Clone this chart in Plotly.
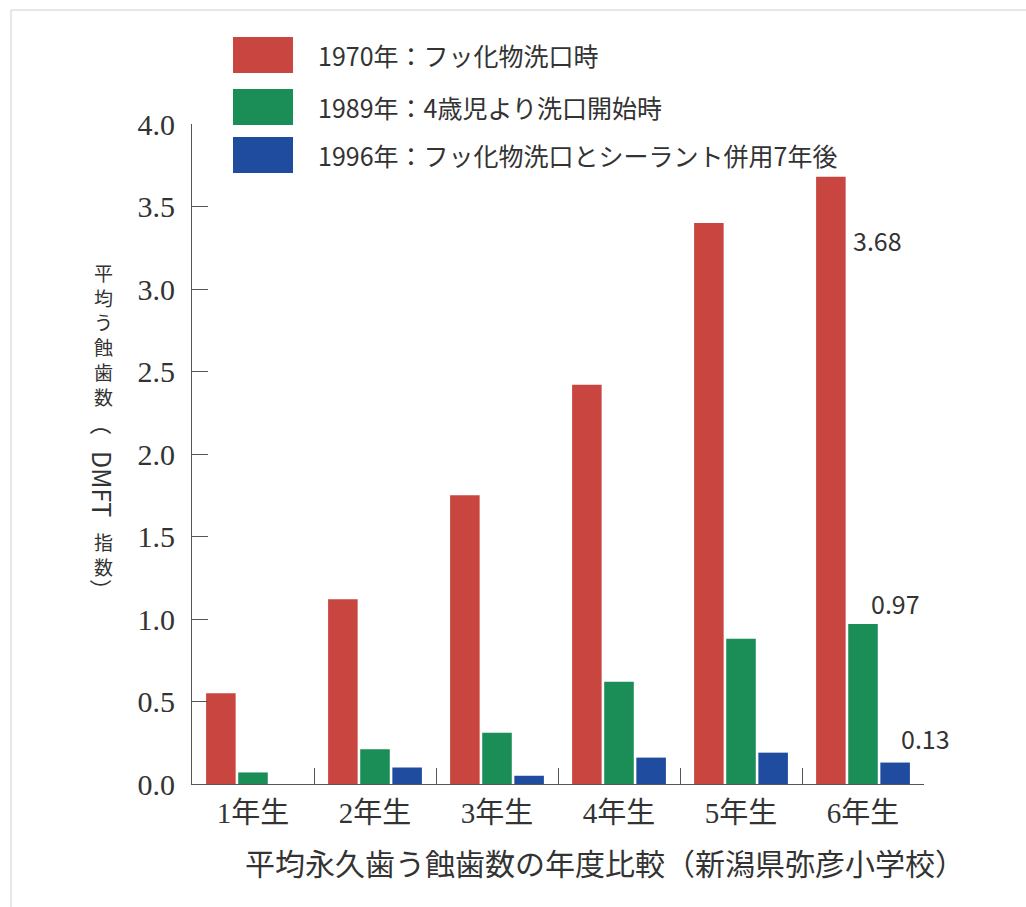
import plotly.graph_objects as go

# ---- data ----
categories = ["1年生", "2年生", "3年生", "4年生", "5年生", "6年生"]
series_names = ["1970年：フッ化物洗口時",
                "1989年：4歳児より洗口開始時",
                "1996年：フッ化物洗口とシーラント併用7年後"]
values_1970 = [0.55, 1.12, 1.75, 2.42, 3.40, 3.68]
values_1989 = [0.07, 0.21, 0.31, 0.62, 0.88, 0.97]
values_1996 = [0.00, 0.10, 0.05, 0.16, 0.19, 0.13]
colors = ["#c8463f", "#1b8d56", "#1f4c9f"]
y_ticks = [0.0, 0.5, 1.0, 1.5, 2.0, 2.5, 3.0, 3.5, 4.0]
y_title_upright = ["平", "均", "う", "蝕", "歯", "数"]
y_title_open = "（"
y_title_rot = "DMFT"
y_title_upright2 = ["指", "数"]
y_title_close = "）"
x_title = "平均永久歯う蝕歯数の年度比較（新潟県弥彦小学校）"

W, H = 1026, 907
L, R, T, B = 192, 924, 124, 784

def px(x):
    return (x - L) / (R - L)

def py(y):
    return (B - y) / (B - T)

SANS = "Noto Sans CJK JP, Noto Sans, sans-serif"
SERIF = "Liberation Serif, Noto Sans CJK JP, serif"
TXT = "#333333"

fig = go.Figure()
for name, vals, c in zip(series_names, [values_1970, values_1989, values_1996], colors):
    fig.add_trace(go.Bar(x=categories, y=vals, name=name, marker=dict(color=c, line=dict(width=0)),
                         showlegend=False))

annotations = []
shapes = []

# custom legend (large swatches)
legend_rows_y = [55, 107, 155]
for name, c, yy in zip(series_names, colors, legend_rows_y):
    shapes.append(dict(type="rect", xref="paper", yref="paper",
                       x0=px(233), x1=px(293), y0=py(yy - 18), y1=py(yy + 18),
                       fillcolor=c, line=dict(width=0)))
    annotations.append(dict(text=name, xref="paper", yref="paper", x=px(316), y=py(yy),
                            xanchor="left", yanchor="middle", showarrow=False,
                            font=dict(family=SANS, size=25, color=TXT)))

# value labels
annotations.append(dict(text=f"{values_1970[5]:.2f}", x=categories[5], y=values_1970[5],
                        xref="x", yref="y", xanchor="left", yanchor="middle",
                        xshift=-12, yshift=-63, showarrow=False,
                        font=dict(family=SANS, size=25, color=TXT)))
annotations.append(dict(text=f"{values_1989[5]:.2f}", x=categories[5], y=values_1989[5],
                        xref="x", yref="y", xanchor="center", yanchor="bottom",
                        xshift=32, yshift=1, showarrow=False,
                        font=dict(family=SANS, size=25, color=TXT)))
annotations.append(dict(text=f"{values_1996[5]:.2f}", x=categories[5], y=values_1996[5],
                        xref="x", yref="y", xanchor="center", yanchor="bottom",
                        xshift=62, yshift=5, showarrow=False,
                        font=dict(family=SANS, size=25, color=TXT)))

# vertical y-axis title
ycx = 103
annotations.append(dict(text="<br>".join(y_title_upright), xref="paper", yref="paper",
                        x=px(ycx), y=py(334), xanchor="center", yanchor="middle", showarrow=False,
                        font=dict(family=SANS, size=19, color=TXT)))
annotations.append(dict(text=y_title_open, xref="paper", yref="paper", x=px(ycx), y=py(424),
                        xanchor="center", yanchor="middle", showarrow=False, textangle=90,
                        font=dict(family=SANS, size=22, color=TXT)))
annotations.append(dict(text=y_title_rot, xref="paper", yref="paper", x=px(ycx), y=py(484),
                        xanchor="center", yanchor="middle", showarrow=False, textangle=90,
                        font=dict(family=SANS, size=25, color=TXT)))
annotations.append(dict(text="<br>".join(y_title_upright2), xref="paper", yref="paper",
                        x=px(ycx), y=py(554), xanchor="center", yanchor="middle", showarrow=False,
                        font=dict(family=SANS, size=19, color=TXT)))
annotations.append(dict(text=y_title_close, xref="paper", yref="paper", x=px(ycx), y=py(590),
                        xanchor="center", yanchor="middle", showarrow=False, textangle=90,
                        font=dict(family=SANS, size=22, color=TXT)))

# x title
annotations.append(dict(text=x_title, xref="paper", yref="paper", x=px(605), y=py(862),
                        xanchor="center", yanchor="middle", showarrow=False,
                        font=dict(family=SANS, size=30, color=TXT)))

# faint frame lines (top & left)
shapes.append(dict(type="line", xref="paper", yref="paper", x0=px(11), x1=px(1026), y0=py(10), y1=py(10),
                   line=dict(color="#d0d0d0", width=1)))
shapes.append(dict(type="line", xref="paper", yref="paper", x0=px(11), x1=px(11), y0=py(10), y1=py(907),
                   line=dict(color="#d0d0d0", width=1)))

fig.update_layout(
    width=W, height=H,
    margin=dict(l=L, r=W - R, t=T, b=H - B, pad=0),
    paper_bgcolor="white", plot_bgcolor="white",
    barmode="group", bargap=0.21, bargroupgap=0.08,
    annotations=annotations, shapes=shapes,
    xaxis=dict(type="category", range=[-0.5, len(categories) - 0.5], autorange=False,
               showline=True, linecolor="#555", linewidth=1.2,
               ticks="inside", tickson="boundaries", ticklen=16, tickcolor="#555", tickwidth=1.2,
               showgrid=False, zeroline=False,
               tickfont=dict(family=SERIF, size=29, color=TXT), ticklabelstandoff=3),
    yaxis=dict(range=[0, 4.0], autorange=False, tickvals=y_ticks, ticktext=[f"{v:.1f}" for v in y_ticks],
               showline=True, linecolor="#555", linewidth=1.2,
               ticks="inside", ticklen=16, tickcolor="#555", tickwidth=1.2,
               showgrid=False, zeroline=False,
               tickfont=dict(family=SERIF, size=30, color=TXT), ticklabelstandoff=10),
)

fig.write_html("out.html")
